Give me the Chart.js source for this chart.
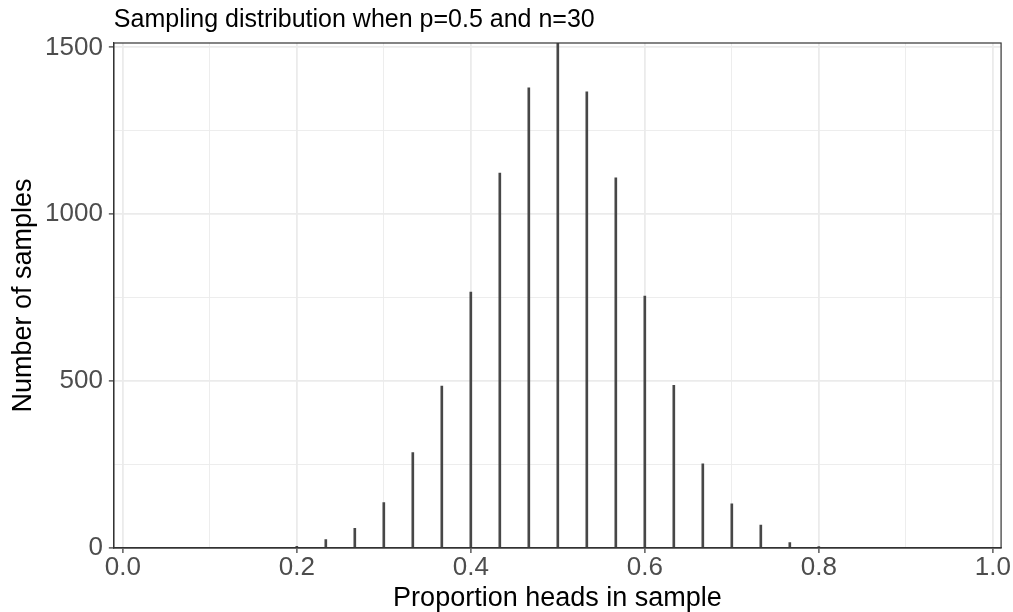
<!DOCTYPE html>
<html>
<head>
<meta charset="utf-8">
<title>Sampling distribution when p=0.5 and n=30</title>
<script src="https://cdn.jsdelivr.net/npm/chart.js@4.4.1/dist/chart.umd.min.js"></script>
<style>
  html, body { margin: 0; padding: 0; background: #ffffff; }
  #wrap { width: 1013px; height: 612px; }
</style>
</head>
<body>
<div id="wrap"><canvas id="samplingChart" width="1013" height="612"></canvas></div>
<script>
// Proportion of heads in a sample of n = 30 tosses (k/30)
const proportions = [6/30, 7/30, 8/30, 9/30, 10/30, 11/30, 12/30, 13/30, 14/30, 15/30,
                     16/30, 17/30, 18/30, 19/30, 20/30, 21/30, 22/30, 23/30, 24/30];
// Number of samples with that proportion
const sampleCounts = [5, 25, 59, 136, 286, 485, 767, 1123, 1379, 1513,
                      1367, 1109, 755, 487, 252, 132, 69, 16, 4];

const xMajorTicks = [0, 0.2, 0.4, 0.6, 0.8, 1.0];
const xMinorTicks = [0.1, 0.3, 0.5, 0.7, 0.9];
const yMajorTicks = [0, 500, 1000, 1500];
const yMinorTicks = [250, 750, 1250];

const chartTitle = 'Sampling distribution when p=0.5 and n=30';
const xTitle = 'Proportion heads in sample';
const yTitle = 'Number of samples';

const FONT = "'Liberation Sans', Arial, Helvetica, sans-serif";

function isIn(list, v) {
    return list.some(t => Math.abs(t - v) < 1e-9);
}

// tick context may come without a tick, so guard it
function majorTick(list, c) {
    return !!(c && c.tick) && isIn(list, c.tick.value);
}

function tickList(major, minor) {
    return major.concat(minor).sort((a, b) => a - b).map(v => ({ value: v }));
}

// theme_bw style panel border around the plotting area
const panelBorder = {
    id: 'panelBorder',
    afterDatasetsDraw(chart) {
        const { ctx, chartArea: a } = chart;
        ctx.save();
        ctx.strokeStyle = '#333333';
        ctx.lineWidth = 1.2;
        ctx.strokeRect(a.left, a.top, a.right - a.left, a.bottom - a.top);
        ctx.restore();
    }
};

const ctx = document.getElementById('samplingChart').getContext('2d');

new Chart(ctx, {
    type: 'bar',
    data: {
        datasets: [{
            label: 'samples',
            data: proportions.map((p, i) => ({ x: p, y: sampleCounts[i] })),
            backgroundColor: '#474747',
            borderWidth: 0,
            barThickness: 2
        }]
    },
    options: {
        responsive: false,
        animation: false,
        layout: { padding: { right: 11 } },
        plugins: {
            legend: { display: false },
            tooltip: { enabled: false },
            title: {
                display: true,
                text: chartTitle,
                align: 'start',
                fullSize: false,
                color: '#000000',
                font: { family: FONT, size: 25, weight: 'normal', lineHeight: 1 },
                padding: { top: 8, bottom: 10 }
            }
        },
        scales: {
            x: {
                type: 'linear',
                offset: false,
                min: -0.0103,
                max: 1.0095,
                afterBuildTicks: scale => { scale.ticks = tickList(xMajorTicks, xMinorTicks); },
                grid: {
                    offset: false,
                    color: '#ebebeb',
                    lineWidth: c => majorTick(xMajorTicks, c) ? 1.8 : 0.9,
                    tickColor: c => majorTick(xMajorTicks, c) ? '#333333' : 'rgba(0,0,0,0)',
                    tickLength: 5,
                    tickWidth: 1.2
                },
                border: { display: true, color: '#333333', width: 1.2 },
                ticks: {
                    autoSkip: false,
                    maxRotation: 0,
                    padding: 2,
                    color: '#4d4d4d',
                    font: { family: FONT, size: 26, lineHeight: 1 },
                    callback: v => isIn(xMajorTicks, v) ? v.toFixed(1) : ''
                },
                title: {
                    display: true,
                    text: xTitle,
                    color: '#000000',
                    font: { family: FONT, size: 27, lineHeight: 1 },
                    padding: { top: 2, bottom: 0 }
                }
            },
            y: {
                type: 'linear',
                min: 0,
                max: Math.max(...sampleCounts),
                afterBuildTicks: scale => { scale.ticks = tickList(yMajorTicks, yMinorTicks); },
                grid: {
                    color: '#ebebeb',
                    lineWidth: c => majorTick(yMajorTicks, c) ? 1.8 : 0.9,
                    tickColor: c => majorTick(yMajorTicks, c) ? '#333333' : 'rgba(0,0,0,0)',
                    tickLength: 5,
                    tickWidth: 1.2
                },
                border: { display: true, color: '#333333', width: 1.2 },
                ticks: {
                    autoSkip: false,
                    padding: 6,
                    color: '#4d4d4d',
                    font: { family: FONT, size: 26, lineHeight: 1 },
                    callback: v => isIn(yMajorTicks, v) ? String(v) : ''
                },
                title: {
                    display: true,
                    text: yTitle,
                    color: '#000000',
                    font: { family: FONT, size: 27, lineHeight: 1 },
                    padding: { top: 10, bottom: 2 }
                }
            }
        }
    },
    plugins: [panelBorder]
});
</script>
</body>
</html>
